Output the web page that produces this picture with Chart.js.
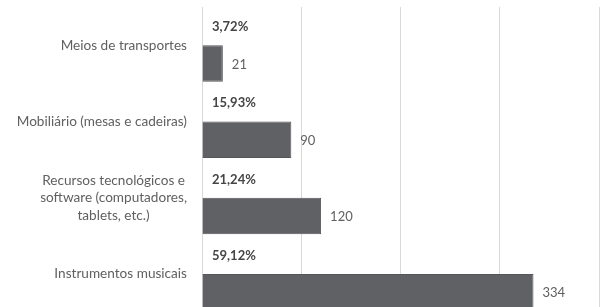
<!DOCTYPE html>
<html>
<head>
<meta charset="utf-8">
<script src="https://cdn.jsdelivr.net/npm/chart.js@4/dist/chart.umd.min.js"></script>
<style>
html,body{margin:0;padding:0;background:#fff;overflow:hidden;}
#wrap{position:relative;width:602px;height:312px;}
</style>
</head>
<body>
<div id="wrap"><canvas id="c"></canvas></div>
<script>
const categories = [
  ["Meios de transportes"],
  ["Mobiliário (mesas e cadeiras)"],
  ["Recursos tecnológicos e", "software (computadores,", "tablets, etc.)"],
  ["Instrumentos musicais"]
];
const percentValues = [3.72, 15.93, 21.24, 59.12];
const percentLabels = ["3,72%", "15,93%", "21,24%", "59,12%"];
const countValues = [21, 90, 120, 334];
const xTicks = [0, 100, 200, 300, 400];

const FONT = "Lato, sans-serif";

const labelPlugin = {
  id: 'labels',
  afterDatasetsDraw(chart) {
    const ctx = chart.ctx;
    const xs = chart.scales.x;
    const ys = chart.scales.y;
    ctx.save();
    // category labels
    ctx.fillStyle = '#606060';
    ctx.font = "13.6px " + FONT;
    ctx.textBaseline = 'middle';
    ctx.textAlign = 'center';
    const lineH = 17.5;
    categories.forEach((lines, i) => {
      const yc = ys.getPixelForValue(i);
      let maxW = 0;
      lines.forEach(l => { maxW = Math.max(maxW, ctx.measureText(l).width); });
      const cx = 187 - maxW / 2;
      const y0 = yc - (lines.length - 1) * lineH / 2;
      lines.forEach((l, k) => ctx.fillText(l, cx, y0 + k * lineH));
    });
    // percent labels
    const m0 = chart.getDatasetMeta(0);
    ctx.textAlign = 'left';
    ctx.font = "bold 13px " + FONT;
    ctx.fillStyle = '#454545';
    m0.data.forEach((bar, i) => {
      ctx.fillText(percentLabels[i], xs.getPixelForValue(0) + 10, bar.y);
    });
    // count labels
    const m1 = chart.getDatasetMeta(1);
    ctx.font = "13px " + FONT;
    ctx.fillStyle = '#606060';
    m1.data.forEach((bar, i) => {
      ctx.fillText(String(countValues[i]), bar.x + 9, bar.y + 1);
    });
    ctx.restore();
  }
};

new Chart(document.getElementById('c'), {
  type: 'bar',
  data: {
    labels: categories.map(c => c.join(' ')),
    datasets: [
      {
        label: 'Percentual',
        data: percentValues,
        backgroundColor: 'rgba(0,0,0,0)',
        borderWidth: 0,
        categoryPercentage: 0.96,
        barPercentage: 1.0
      },
      {
        label: 'Quantidade',
        data: countValues,
        backgroundColor: '#606165',
        borderColor: '#55565a',
        borderWidth: 1,
        categoryPercentage: 0.96,
        barPercentage: 1.0
      }
    ]
  },
  options: {
    indexAxis: 'y',
    responsive: true,
    maintainAspectRatio: false,
    animation: false,
    events: [],
    layout: { padding: { top: 7, right: 3, bottom: 0, left: 0 } },
    plugins: { legend: { display: false }, tooltip: { enabled: false } },
    scales: {
      x: {
        min: xTicks[0],
        max: xTicks[xTicks.length - 1],
        afterBuildTicks: (s) => { s.ticks = xTicks.map(v => ({ value: v })); },
        ticks: { display: false },
        grid: { color: '#d9d9d9', lineWidth: 1, drawTicks: false },
        border: { display: false }
      },
      y: {
        ticks: { display: false },
        grid: { display: false, drawTicks: false },
        border: { display: false },
        afterFit: (s) => { s.width = 202; }
      }
    }
  },
  plugins: [labelPlugin]
});
</script>
</body>
</html>
